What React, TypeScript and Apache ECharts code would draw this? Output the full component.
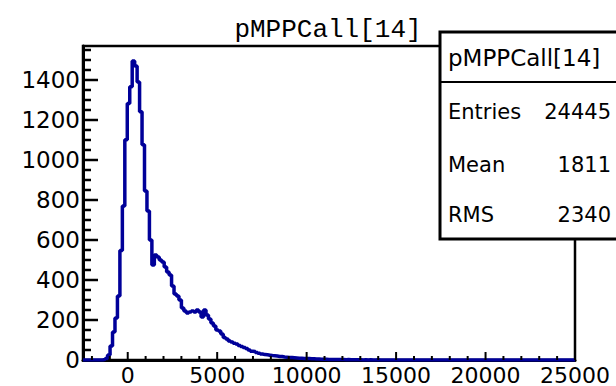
import React, { useEffect, useRef } from "react";
import * as echarts from "echarts";

const histTitle = "pMPPCall[14]";
const xMin = -2500;
const xMax = 25000;
const binWidth = 137.5;
const yMax = 1570;

// bin contents (200 bins of 137.5 from -2500)
const counts = [
  0, 0, 0, 0, 0, 0, 0, 0, 3, 8,
  25, 70, 140, 210, 320, 547, 770, 1101, 1283, 1366,
  1495, 1470, 1390, 1241, 1076, 845, 745, 600, 475, 525,
  515, 500, 490, 465, 440, 425, 370, 330, 320, 300,
  260, 245, 235, 240, 245, 240, 250, 240, 215, 250,
  225, 205, 185, 170, 150, 145, 130, 112, 105, 95,
  90, 84, 80, 72, 68, 62, 58, 50, 44, 42,
  38, 34, 30, 27, 26, 24, 22, 21, 20, 18,
  17, 15, 14, 13, 12, 11, 10, 9, 9, 8,
  7, 7, 6, 6, 5, 5, 4, 4, 4, 3,
  3, 2, 3, 2, 2, 2, 1, 2, 1, 1,
  1, 1, 1, 0, 1, 0, 1, 0, 0, 1,
  0, 0, 0, 0, 0, 0, 0, 0, 0, 0,
  0, 0, 0, 0, 0, 0, 0, 0, 0, 0,
  0, 0, 0, 0, 0, 0, 0, 0, 0, 0,
  0, 0, 0, 0, 0, 0, 0, 0, 0, 0,
  0, 0, 0, 0, 0, 0, 0, 0, 0, 0,
  0, 0, 0, 0, 0, 0, 0, 0, 0, 0,
  0, 0, 0, 0, 0, 0, 0, 0, 0, 0,
  0, 0, 0, 0, 0, 0, 0, 0, 0, 0,
];

const xMajorTicks = [0, 5000, 10000, 15000, 20000, 25000];
const xMinorTicks = [
  -2000, -1000, 1000, 2000, 3000, 4000, 6000, 7000, 8000, 9000, 11000, 12000,
  13000, 14000, 16000, 17000, 18000, 19000, 21000, 22000, 23000, 24000,
];
const yMajorTicks = [0, 200, 400, 600, 800, 1000, 1200, 1400];
const yMinorTicks = [
  50, 100, 150, 250, 300, 350, 450, 500, 550, 650, 700, 750, 850, 900, 950,
  1050, 1100, 1150, 1250, 1300, 1350, 1450, 1500, 1550,
];

const statLabels = ["Entries", "Mean", "RMS"];
const statValues = ["24445", "1811", "2340"];

const FONT = "DejaVu Sans";

export default function App() {
  const ref = useRef<HTMLDivElement>(null);
  useEffect(() => {
    if (!ref.current) return;
    const chart = echarts.init(ref.current, null, { renderer: "svg" });
    const lineData: [number, number][] = counts.map((c, i) => [xMin + i * binWidth, c]);
    lineData.push([xMin + counts.length * binWidth, counts[counts.length - 1]]);
    const plain = (v: number) => String(v);

    const statY = [112, 165, 215];
    const graphic: any[] = [
      {
        type: "text",
        x: 328,
        y: 30,
        z: 100,
        style: {
          text: histTitle,
          fontFamily: "Liberation Mono",
          fontSize: 26,
          fill: "#000",
          align: "center",
          verticalAlign: "middle",
        },
      },
      {
        type: "rect",
        z: 100,
        shape: { x: 440, y: 32, width: 200, height: 207 },
        style: { fill: "#fff", stroke: "#000", lineWidth: 3 },
      },
      {
        type: "line",
        z: 101,
        shape: { x1: 440, y1: 82, x2: 616, y2: 82 },
        style: { stroke: "#000", lineWidth: 2 },
      },
      {
        type: "text",
        x: 448,
        y: 58,
        z: 102,
        style: {
          text: histTitle,
          fontFamily: FONT,
          fontSize: 23,
          fill: "#000",
          align: "left",
          verticalAlign: "middle",
        },
      },
    ];
    statLabels.forEach((lab, k) => {
      graphic.push({
        type: "text",
        x: 448,
        y: statY[k],
        z: 102,
        style: { text: lab, fontFamily: FONT, fontSize: 21, fill: "#000", align: "left", verticalAlign: "middle" },
      });
      graphic.push({
        type: "text",
        x: 611,
        y: statY[k],
        z: 102,
        style: { text: statValues[k], fontFamily: FONT, fontSize: 21, fill: "#000", align: "right", verticalAlign: "middle" },
      });
    });

    chart.setOption({
      animation: false,
      grid: {
        left: 83,
        right: 41,
        top: 46,
        bottom: 24,
        show: true,
        borderColor: "#000",
        borderWidth: 2.5,
      },
      xAxis: {
        type: "value",
        min: xMin,
        max: xMax,
        axisLine: { show: true, onZero: false, lineStyle: { color: "#000", width: 3 } },
        axisTick: { show: false },
        axisLabel: { customValues: xMajorTicks, formatter: plain, fontFamily: FONT, fontSize: 22, color: "#000", margin: 4 },
        splitLine: { show: false },
      },
      yAxis: {
        type: "value",
        min: 0,
        max: yMax,
        axisLine: { show: true, onZero: false, lineStyle: { color: "#000", width: 3 } },
        axisTick: { show: false },
        axisLabel: { customValues: yMajorTicks, formatter: plain, fontFamily: FONT, fontSize: 23, color: "#000", margin: 3 },
        splitLine: { show: false },
      },
      series: [
        {
          type: "line",
          data: lineData,
          step: "end",
          symbol: "none",
          showSymbol: false,
          clip: true,
          lineStyle: { color: "#000099", width: 3.5 },
        },
      ],
      graphic,
    });

    // tick marks placed through the chart's own scales
    try {
      const ticks: any[] = [];
      const toPx = (v: [number, number]) => chart.convertToPixel({ gridIndex: 0 }, v) as number[];
      const addX = (v: number, len: number) => {
        const p = toPx([v, 0]);
        ticks.push({
          type: "line",
          z: 150,
          shape: { x1: p[0], y1: p[1], x2: p[0], y2: p[1] - len },
          style: { stroke: "#000", lineWidth: 2 },
        });
      };
      const addY = (v: number, len: number) => {
        const p = toPx([xMin, v]);
        ticks.push({
          type: "line",
          z: 150,
          shape: { x1: p[0], y1: p[1], x2: p[0] + len, y2: p[1] },
          style: { stroke: "#000", lineWidth: 2.5 },
        });
      };
      xMajorTicks.forEach((v) => addX(v, 8));
      xMinorTicks.forEach((v) => addX(v, 4));
      yMajorTicks.filter((v) => v > 0).forEach((v) => addY(v, 15));
      yMinorTicks.forEach((v) => addY(v, 8));
      chart.setOption({ graphic: graphic.concat(ticks) }, { replaceMerge: ["graphic"] });
    } catch (e) {
      // keep the chart without tick marks if conversion fails
    }
    return () => chart.dispose();
  }, []);
  return <div ref={ref} style={{ width: 616, height: 386, position: "absolute", left: 0, top: 0, background: "#fff" }} />;
}
